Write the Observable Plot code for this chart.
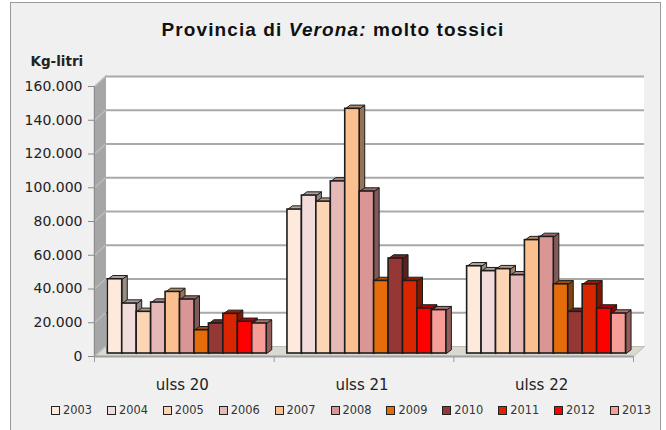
<!DOCTYPE html>
<html>
<head>
<meta charset="utf-8">
<script src="https://cdn.jsdelivr.net/npm/d3@7"></script>
<script src="https://cdn.jsdelivr.net/npm/@observablehq/plot@0.6"></script>
<style>
  html,body{margin:0;padding:0;background:#fff;}
  #chart{position:relative;width:666px;height:430px;overflow:hidden;font-family:"DejaVu Sans",sans-serif;}
  #frame{position:absolute;left:10px;top:2px;width:651px;height:440px;background:#f0f0f0;border:1.5px solid #9a9a9a;box-sizing:border-box;}
  #title{position:relative;height:46px;text-align:center;font:bold 19px/60px "Liberation Sans",Arial,sans-serif;letter-spacing:1.1px;color:#111;}
  #plot{position:relative;height:350px;}
  #plot svg{display:block;background:transparent;overflow:visible;}
  #legend{position:relative;height:34px;}
  .item{position:absolute;top:9px;display:flex;align-items:center;font-size:11.4px;line-height:10px;color:#333;}
  .sw{width:9px;height:9px;border:1.2px solid #222;box-sizing:border-box;margin-right:3px;}
</style>
</head>
<body>
<div id="chart">
  <div id="frame"></div>
  <div id="title">Provincia di <i>Verona:</i> molto tossici</div>
  <div id="plot"></div>
  <div id="legend"></div>
</div>
<script>
const years = [2003,2004,2005,2006,2007,2008,2009,2010,2011,2012,2013];
const groups = ["ulss 20","ulss 21","ulss 22"];
const ulss20 = [44000,29600,24700,30200,36500,32000,13800,17800,23500,18800,17800];
const ulss21 = [85300,93600,90000,102000,145000,96000,43000,56300,43000,26700,25700];
const ulss22 = [51700,48800,50000,46400,67200,69100,41000,24700,41000,26700,23700];
const yearColors = ["#fdeadc","#f2dcdb","#fcd5b5","#e6b9b8","#fac090","#d99694","#e46c0a","#953735","#d92600","#ff0000","#f59d96"];
const yTicks = [0,20000,40000,60000,80000,100000,120000,140000,160000];
const series = [ulss20,ulss21,ulss22];

const fmt = d3.formatLocale({decimal:",",thousands:".",grouping:[3],currency:["",""]}).format(",");

// depth of the 3D box, in scale units
const wallDx = 0.0612, wallDy = 5926;
const barStart = 0.074, barW = 0.0804;
const barDx = 0.028, barDy = 2200;

const bars = series.flatMap((vals,g)=>vals.map((v,i)=>({
  group:groups[g], year:years[i], color:yearColors[i], value:v,
  x1:g+barStart+i*barW, x2:g+barStart+(i+1)*barW
})));
function shade(c,k){const r=d3.rgb(c);return d3.rgb(r.r*k,r.g*k,r.b*k).formatHex();}
function facesFor(year){
  return bars.filter(b=>b.year===year).flatMap(b=>{
    const side=[[b.x2,0],[b.x2+barDx,barDy],[b.x2+barDx,b.value+barDy],[b.x2,b.value]];
    const top=[[b.x1,b.value],[b.x1+barDx,b.value+barDy],[b.x2+barDx,b.value+barDy],[b.x2,b.value]];
    return [
      ...side.map(p=>({id:b.group+"s",x:p[0],y:p[1],fill:shade(b.color,0.6)})),
      ...top.map(p=>({id:b.group+"t",x:p[0],y:p[1],fill:shade(b.color,0.72)}))
    ];
  });
}
const sideWall=[[0,0],[wallDx,wallDy],[wallDx,160000+wallDy],[0,160000]];
const floor=[[0,0],[3,0],[3+wallDx,wallDy],[wallDx,wallDy]];
const poly=a=>a.map(p=>({x:p[0],y:p[1]}));
const lineOpts=(o)=>({x:"x",y:"y",curve:"linear-closed",...o});
const barStroke="#1c1c1c";

const marks=[
  Plot.rect([0],{x1:wallDx,x2:3+wallDx,y1:wallDy,y2:160000+wallDy,fill:"#fff"}),
  Plot.line(poly(sideWall),lineOpts({fill:"#a6a6a6",stroke:"#a6a6a6",strokeWidth:1})),
  Plot.line(poly(floor),lineOpts({fill:"#d9d9d2",stroke:"#bdbdb6",strokeWidth:1})),
  Plot.ruleY(yTicks.slice(1),{y:d=>d+wallDy,x1:wallDx,x2:3+wallDx,stroke:"#a9a9a9",strokeWidth:2}),
  Plot.link(yTicks,{x1:0,x2:wallDx,y1:d=>d,y2:d=>d+wallDy,stroke:"#bcbcbc",strokeWidth:1.5}),
  Plot.ruleX([0],{y1:0,y2:160000,stroke:"#8c8c8c",strokeWidth:1}),
  Plot.ruleY([0],{x1:0,x2:3,stroke:"#a0a0a0",strokeWidth:2}),
  Plot.axisY({ticks:yTicks,tickFormat:fmt,label:null,tickSize:6,tickPadding:6,fontSize:14,stroke:"#888",fill:"#222"}),
  Plot.axisX({ticks:[0,1,2,3],tickFormat:()=>"",label:null,tickSize:6,stroke:"#999"}),
  Plot.text(groups,{x:(d,i)=>i+0.5,frameAnchor:"bottom",text:d=>d,dy:33,dx:-2,fontSize:15,fill:"#222"}),
  Plot.text(["Kg-litri"],{frameAnchor:"top-left",text:d=>d,dx:-64,dy:-30,fontSize:13.5,fontWeight:"bold",fill:"#222"}),
  ...years.flatMap(y=>[
    Plot.line(facesFor(y),lineOpts({z:"id",fill:"fill",stroke:barStroke,strokeWidth:1,dy:-3})),
    Plot.rect(bars.filter(b=>b.year===y),{x1:"x1",x2:"x2",y1:0,y2:"value",fill:"color",stroke:barStroke,strokeWidth:1.6,dy:-3})
  ])
];

const plot=Plot.plot({
  width:666,height:350,
  marginLeft:94,marginRight:33,marginTop:40,marginBottom:40,
  style:{background:"transparent",fontFamily:'"DejaVu Sans",sans-serif',overflow:"visible"},
  x:{type:"linear",domain:[0,3]},
  y:{type:"linear",domain:[0,160000]},
  color:{type:"identity"},
  marks
});
document.getElementById("plot").append(plot);

const legend=document.getElementById("legend");
years.forEach((y,i)=>{
  const it=document.createElement("div");
  it.className="item";
  it.style.left=(51+i*55.9)+"px";
  const sw=document.createElement("span");
  sw.className="sw";sw.style.background=yearColors[i];
  it.append(sw,document.createTextNode(y));
  legend.append(it);
});
</script>
</body>
</html>
